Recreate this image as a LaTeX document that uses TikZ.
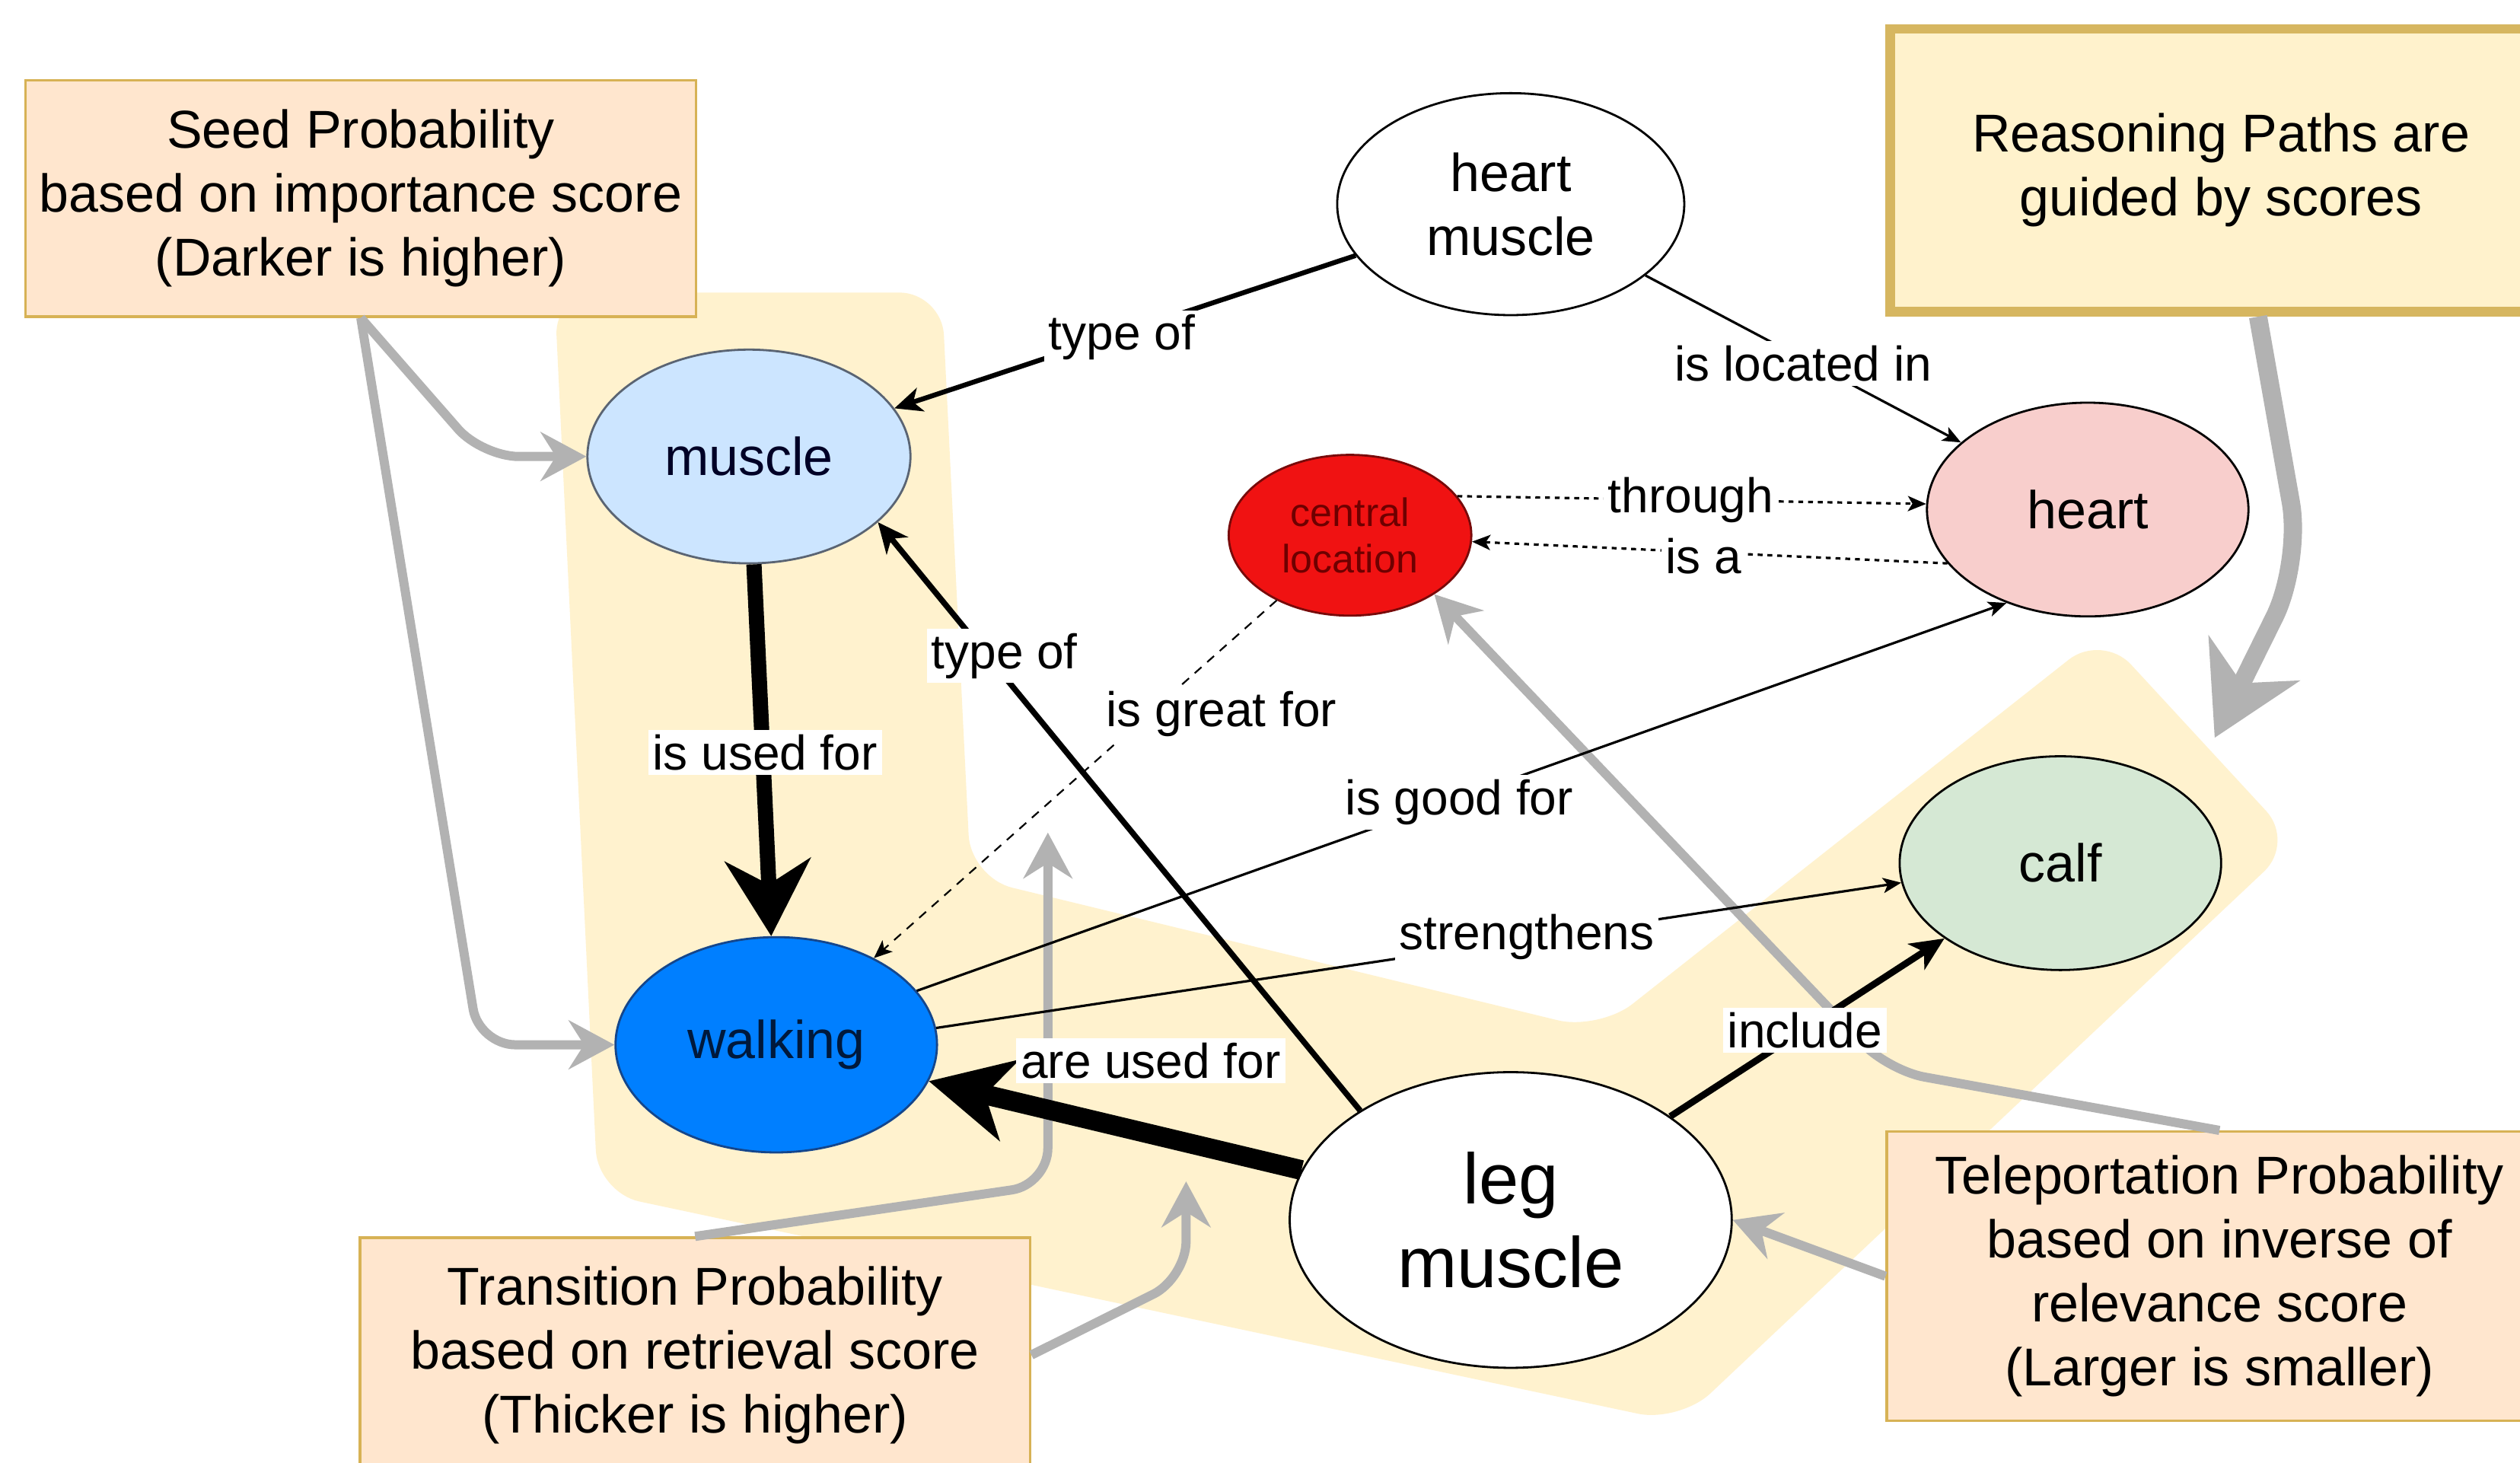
\documentclass[tikz,border=0pt]{standalone}
\usepackage{fontspec}
\setmainfont{Liberation Sans}
\usetikzlibrary{shapes.geometric,arrows.meta,calc}
\definecolor{bandc}{RGB}{255,242,206}
\definecolor{peach}{RGB}{255,230,206}
\definecolor{peachb}{RGB}{215,178,85}
\definecolor{reasonb}{RGB}{214,182,96}
\definecolor{reasonf}{RGB}{255,242,204}
\definecolor{grayarr}{RGB}{178,178,178}
\definecolor{musclef}{RGB}{204,229,255}
\definecolor{muscleb}{RGB}{90,100,115}
\definecolor{walkf}{RGB}{0,127,255}
\definecolor{walkb}{RGB}{20,70,140}
\definecolor{walkt}{RGB}{0,25,60}
\definecolor{clf}{RGB}{240,18,18}
\definecolor{clb}{RGB}{120,10,10}
\definecolor{clt}{RGB}{110,0,0}
\definecolor{heartf}{RGB}{248,206,204}
\definecolor{calff}{RGB}{213,232,212}
\begin{document}
\begin{tikzpicture}[x=0.5279pt,y=-0.5279pt,
  ell/.style={ellipse, draw=black, line width=0.7pt, inner sep=0pt, align=center, font=\fontsize{17.5}{21}\selectfont},
  box/.style={rectangle, draw=peachb, fill=peach, line width=0.8pt, inner sep=0pt, align=center, font=\fontsize{17.5}{21}\selectfont},
  lbl/.style={fill=white, inner sep=1.5pt, font=\fontsize{16}{19}\selectfont},
  grayline/.style={draw=grayarr, line width=3pt, rounded corners=12pt, -{Stealth[length=15pt,width=16pt,inset=5pt]}},
  thinarr/.style={line width=0.8pt, -{Stealth[length=6pt,width=5pt,inset=1.5pt]}},
  dotarr/.style={line width=0.8pt, dash pattern=on 1.6pt off 1.6pt, -{Stealth[length=6pt,width=5pt,inset=1.5pt]}},
  dasharr/.style={line width=0.55pt, dash pattern=on 3pt off 2.5pt, -{Stealth[length=6pt,width=5pt,inset=1.5pt]}},
]
\useasboundingbox (0,0) rectangle (1568,910);
\clip (0,0) rectangle (1568,910);
\fill[white] (0,0) rectangle (1568,910);

% highlighted reasoning path
\fill[bandc, rounded corners=14pt] (345,182) -- (586,182) -- (604,546) -- (995,641) -- (1308,394) -- (1428,524) -- (1045,885) -- (372,742) -- cycle;

% annotation boxes
\node[box, minimum width=220.1pt, minimum height=77.6pt] (seed) at (224.5,123.5) {Seed Probability\\based on importance score\\(Darker is higher)};
\node[box, draw=reasonb, fill=reasonf, line width=3.2pt, minimum width=217.5pt, minimum height=92.9pt] (reason) at (1382,106) {Reasoning Paths are\\guided by scores};
\node[box, minimum width=218.6pt, minimum height=95pt] (tele) at (1381,794) {Teleportation Probability\\based on inverse of\\relevance score\\(Larger is smaller)};
\node[box, minimum width=220.1pt, minimum height=77.1pt] (trans) at (432.5,843) {Transition Probability\\based on retrieval score\\(Thicker is higher)};

% concept nodes
\node[ell, fill=white, minimum width=114pt, minimum height=72.9pt] (hm) at (940,127) {heart\\muscle};
\node[ell, fill=musclef, draw=muscleb, text=black!85!blue, minimum width=106.1pt, minimum height=70.2pt] (muscle) at (466,284) {muscle};
\node[ell, fill=clf, draw=clb, text=clt, minimum width=79.7pt, minimum height=52.8pt, font=\fontsize{13}{15.3}\selectfont] (cl) at (840,333) {central\\location};
\node[ell, fill=heartf, minimum width=105.6pt, minimum height=70.2pt] (heart) at (1299,317) {heart};
\node[ell, fill=walkf, draw=walkb, text=walkt, minimum width=105.6pt, minimum height=70.7pt] (walking) at (483,650) {walking};
\node[ell, fill=calff, minimum width=105.6pt, minimum height=70.2pt] (calf) at (1282,537) {calf};
\node[ell, fill=white, minimum width=145.2pt, minimum height=97.1pt, font=\fontsize{23.5}{27.5}\selectfont] (lm) at (940,759) {leg\\muscle};

% free ends of the grey guide arrows
\coordinate (t1) at (652,518);
\coordinate (t2) at (738,735);
\coordinate (r1) at (1378,459);

% grey guide arrows
\draw[grayline] (seed.south) -- (300,284) -- (muscle.west);
\draw[grayline] (seed.south) -- (298,650) -- (walking.west);
\draw[grayline] (trans.north) -- (652,737) -- (t1);
\draw[grayline] (trans.east) -- (738,795) -- (t2);
\draw[grayline] (tele.west) -- (lm.east);
\draw[grayline] (tele.north) -- (1175,666) -- (cl.-35);
\draw[draw=grayarr, line width=6pt, rounded corners=20pt, -{Stealth[length=29pt,width=33pt,inset=9pt]}] ($(reason.south)+(23,0)$) -- (1432,350) -- (r1);

% relations
\draw[line width=1.6pt, -{Stealth[length=9pt,width=8pt,inset=2.5pt]}] (hm) -- (muscle);
\draw[thinarr] (hm) -- (heart);
\draw[dotarr] (cl.20) -- (heart.178);
\draw[dotarr] (heart.201) -- (cl.-3);
\draw[dasharr] (cl) -- (walking);
\draw[thinarr] (walking.21) -- (heart.229);
\draw[thinarr] (walking.6) -- (calf.187);
\draw[line width=1.9pt, -{Stealth[length=10pt,width=9pt,inset=3pt]}] (lm.144) -- (muscle.-27);
\draw[line width=5pt, -{Stealth[length=25pt,width=28pt,inset=8pt]}] (muscle) -- (walking);
\draw[line width=6.5pt, -{Stealth[length=27pt,width=27pt,inset=8pt]}] (lm) -- (walking);
\draw[line width=2.2pt, -{Stealth[length=11pt,width=10pt,inset=3pt]}] (lm) -- (calf);

% relation labels
\node[lbl] (l1) at (698,210) {type of};
\node[lbl] (l2) at (1122,226) {is located in};
\node[lbl] (l3) at (1052,311) {through};
\node[lbl] (l4) at (1060,346) {is a};
\node[lbl] (l5) at (760,444) {is great for};
\node[lbl] (l6) at (625,408) {type of};
\node[lbl] (l7) at (476,468) {is used for};
\node[lbl] (l8) at (908,499) {is good for};
\node[lbl] (l9) at (950,583) {strengthens};
\node[lbl] (l10) at (716,660) {are used for};
\node[lbl] (l11) at (1123,641) {include};
\end{tikzpicture}
\end{document}
